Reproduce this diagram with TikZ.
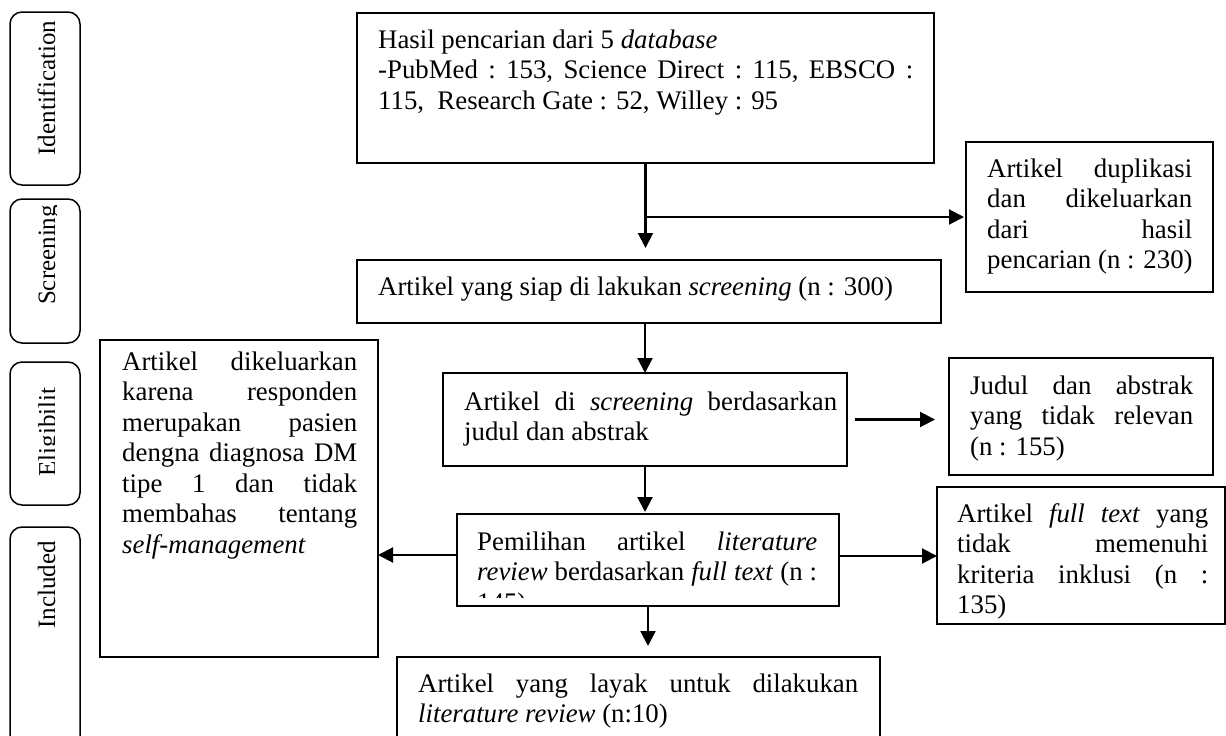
\documentclass[tikz,border=0pt]{standalone}
\usepackage{fontspec}
\setmainfont{Liberation Serif}
\usetikzlibrary{arrows.meta,positioning}

% one line of a box, spread to the full width / kept at its own width
\newcommand{\jline}[1]{\hbox to\hsize{\frenchspacing\spaceskip=.25em plus 1fil\relax#1}}
\newcommand{\nline}[1]{\hbox{#1}}
\newcommand{\textlines}[2]{\vtop{\hsize=#1\relax#2}}

\begin{document}
\begin{tikzpicture}[x=1pt, y=1pt,
      flow/.style={draw, line width=1.9pt, inner sep=0pt, outer sep=0pt, anchor=north west},
      txt/.style={anchor=base west, inner sep=0pt, font=\fontsize{26.8}{30.5}\selectfont},
      side/.style={draw, line width=1.5pt, rounded corners=12pt, inner sep=0pt, outer sep=0pt, anchor=north west},
      sidetxt/.style={rotate=90, anchor=base, inner sep=0pt, font=\fontsize{25}{30}\selectfont},
      arr/.style={-{Triangle[length=15pt,width=15pt]}, line width=2.1pt}]
    \useasboundingbox (0,0) rectangle (1226,-736);

    % phases
    \node[side, minimum width=70, minimum height=173] (ph-id)  at (10,-12)  {};
    \node[side, minimum width=70, minimum height=144] (ph-scr) at (10,-199) {};
    \node[side, minimum width=70, minimum height=143] (ph-el)  at (10,-362) {};
    \node[side, minimum width=70, minimum height=240] (ph-inc) at (10,-527) {};
    \node[sidetxt] (ph-id-t) at (55,-88) {Identification};
    \begin{scope}
      \clip (ph-scr.north west) rectangle ([xshift=-23.5]ph-scr.south east);
      \node[sidetxt] (ph-scr-t) at (55,-255) {Screening};
    \end{scope}
    \begin{scope}
      \clip (ph-el.north west) rectangle ([xshift=-26]ph-el.south east);
      \node[sidetxt] (ph-el-t) at (55.5,-432) {Eligibilit};
    \end{scope}
    \node[sidetxt] (ph-inc-t) at (55,-585) {Included};

    % boxes
    \node[flow, minimum width=577, minimum height=150] (srch) at (357,-13) {};
    \node[txt] (srch-t) at ([shift={(21,-35)}]srch.north west) {\textlines{535pt}{%
      \nline{Hasil pencarian dari 5 \textit{database}}%
      \jline{-PubMed : 153, Science Direct : 115, EBSCO :}%
      \nline{115,\ \ Research Gate : 52, Willey : 95}}};

    \node[flow, minimum width=247, minimum height=150] (dupl) at (966,-142) {};
    \node[txt] (dupl-t) at ([shift={(21,-35)}]dupl.north west) {\textlines{205pt}{%
      \jline{Artikel duplikasi}\jline{dan dikeluarkan}\jline{dari hasil}%
      \nline{pencarian (n : 230)}}};

    \node[flow, minimum width=584, minimum height=63] (ready) at (357,-260) {};
    \node[txt] (ready-t) at ([shift={(21,-35)}]ready.north west) {\textlines{545pt}{%
      \nline{Artikel yang siap di lakukan \textit{screening} (n : 300)}}};

    \node[flow, minimum width=404, minimum height=93] (scr) at (443,-373) {};
    \node[txt] (scr-t) at ([shift={(21,-37)}]scr.north west) {\textlines{373pt}{%
      \jline{Artikel di \textit{screening} berdasarkan}\nline{judul dan abstrak}}};

    \node[flow, minimum width=264, minimum height=117] (jdl) at (949,-358) {};
    \node[txt] (jdl-t) at ([shift={(21,-36)}]jdl.north west) {\textlines{223pt}{%
      \jline{Judul dan abstrak}\jline{yang tidak relevan}\nline{(n : 155)}}};

    \node[flow, minimum width=278, minimum height=317] (excl) at (100,-340) {};
    \node[txt] (excl-t) at ([shift={(22,-30)}]excl.north west) {\textlines{235pt}{%
      \jline{Artikel dikeluarkan}\jline{karena responden}\jline{merupakan pasien}%
      \jline{dengna diagnosa DM}\jline{tipe 1 dan tidak}\jline{membahas tentang}%
      \nline{\textit{self-management}}}};

    \node[flow, minimum width=382, minimum height=92] (pick) at (457,-514) {};
    \begin{scope}
      \clip (pick.north west) rectangle ([yshift=9]pick.south east);
      \node[txt] (pick-t) at ([shift={(20,-36)}]pick.north west) {\textlines{340pt}{%
        \jline{Pemilihan artikel \textit{literature}}%
        \jline{\textit{review} berdasarkan \textit{full text} (n :}\nline{145)}}};
    \end{scope}

    \node[flow, minimum width=288, minimum height=137] (full) at (937,-487) {};
    \node[txt] (full-t) at ([shift={(20,-35)}]full.north west) {\textlines{251pt}{%
      \jline{Artikel \textit{full text} yang}\jline{tidak memenuhi}%
      \jline{kriteria inklusi (n :}\nline{135)}}};

    \node[flow, minimum width=483, minimum height=90] (lyk) at (397,-657) {};
    \node[txt] (lyk-t) at ([shift={(21,-35)}]lyk.north west) {\textlines{440pt}{%
      \jline{Artikel yang layak untuk dilakukan}%
      \nline{\textit{literature review} (n:10)}}};

    % connectors
    \coordinate (split) at (srch.south |- dupl.west);
    \draw[arr, shorten >=12pt] (srch.south) -- (srch.south |- ready.north);
    \draw[arr, shorten >=2pt] (split) -- (dupl.west);
    \draw[arr] (scr.north |- ready.south) -- (scr.north);
    \draw[arr, shorten <=8pt, shorten >=14pt] (scr.east) -- (scr.east -| jdl.west);
    \draw[arr, shorten >=2pt] (scr.south) -- (scr.south |- pick.north);
    \draw[arr] ([yshift=5]pick.west) -- ([yshift=5]pick.west -| excl.east);
    \draw[arr] ([yshift=4]pick.east) -- ([yshift=4]pick.east -| full.west);
    \draw[arr, shorten >=11pt] (pick.south) -- (pick.south |- lyk.north);
  \end{tikzpicture}
\end{document}
